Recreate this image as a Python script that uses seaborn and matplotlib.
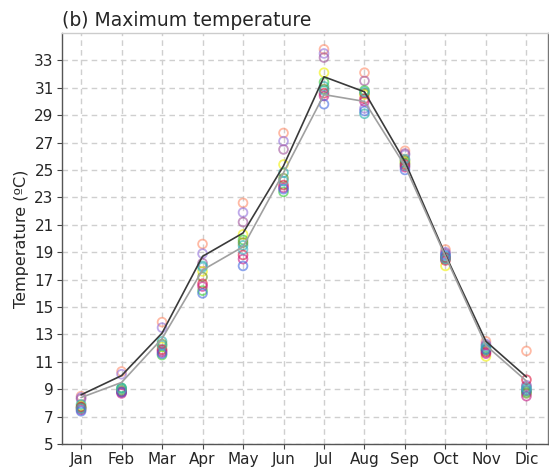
import numpy as np
import pandas as pd
import matplotlib
matplotlib.use("Agg")
import matplotlib.pyplot as plt
import seaborn as sns

months = ["Jan", "Feb", "Mar", "Apr", "May", "Jun", "Jul", "Aug", "Sep", "Oct", "Nov", "Dic"]

# Observed / reference climatologies (two gray lines)
ref_dark = [8.6, 10.0, 13.1, 18.7, 20.4, 25.3, 31.8, 30.7, 25.6, 18.8, 12.5, 9.9]
ref_light = [8.4, 9.5, 12.7, 17.7, 19.4, 24.8, 30.5, 30.0, 25.3, 18.7, 12.2, 9.6]

# Ensemble members (open circles)
members = ["M01", "M02", "M03", "M04", "M05", "M06", "M07", "M08", "M09", "M10", "M11"]
member_colors = ["#ff8c69", "#9370db", "#a0529b", "#f0f000", "#32cd32", "#20b2aa",
                 "#6b8e23", "#dc143c", "#c71585", "#4169e1", "#3cb0c0"]
m01 = [8.5, 10.3, 13.9, 19.6, 22.6, 27.7, 33.8, 32.1, 26.4, 19.2, 12.5, 11.8]
m02 = [8.4, 10.1, 13.5, 18.9, 21.9, 27.1, 33.5, 29.5, 26.1, 19.0, 12.3, 9.3]
m03 = [8.3, 8.8, 11.8, 18.2, 21.2, 26.5, 33.2, 31.5, 26.2, 18.9, 12.2, 9.2]
m04 = [7.8, 9.0, 12.1, 17.6, 20.3, 25.4, 32.1, 30.5, 25.6, 18.0, 11.4, 8.9]
m05 = [7.7, 9.1, 11.5, 16.2, 19.9, 23.4, 31.4, 30.8, 25.5, 18.6, 11.9, 8.8]
m06 = [7.9, 9.1, 12.5, 18.0, 19.5, 24.8, 31.1, 29.1, 25.3, 18.7, 12.0, 9.0]
m07 = [7.6, 8.9, 12.3, 17.2, 19.7, 24.4, 30.9, 30.6, 25.7, 18.5, 11.8, 8.7]
m08 = [7.7, 8.8, 11.9, 16.7, 18.8, 23.9, 30.6, 30.2, 25.4, 18.4, 11.7, 9.7]
m09 = [7.5, 8.7, 11.7, 16.5, 18.5, 23.7, 30.4, 30.0, 25.2, 18.6, 11.6, 8.5]
m10 = [7.4, 8.8, 11.6, 16.0, 18.0, 23.6, 29.8, 29.3, 25.0, 18.8, 11.9, 8.9]
m11 = [7.6, 9.0, 12.2, 17.9, 19.2, 24.2, 30.8, 30.7, 25.8, 18.5, 12.1, 9.1]
member_values = [m01, m02, m03, m04, m05, m06, m07, m08, m09, m10, m11]

yticks = list(range(5, 35, 2))

sns.set_style("white")
plt.rcParams["font.family"] = ["DejaVu Sans"]

fig = plt.figure(figsize=(5.49, 4.70), dpi=100)
ax = fig.add_axes([0.113, 0.055, 0.885, 0.875])

x_idx = np.arange(len(months))

rows = []
for name, vals in zip(members, member_values):
    for i, v in enumerate(vals):
        rows.append({"x": i, "value": v, "member": name})
df_members = pd.DataFrame(rows)

df_lines = pd.DataFrame({
    "x": np.concatenate([x_idx, x_idx]),
    "value": ref_dark + ref_light,
    "series": ["dark"] * len(months) + ["light"] * len(months),
})

sns.lineplot(data=df_lines, x="x", y="value", hue="series",
             palette={"dark": "#3a3a3a", "light": "#a0a0a0"},
             linewidth=1.2, legend=False, ax=ax, zorder=3)

sns.scatterplot(data=df_members, x="x", y="value", hue="member",
                palette=dict(zip(members, member_colors)),
                s=40, legend=False, ax=ax, zorder=2)

# Turn the filled markers into open circles
for coll in ax.collections:
    fc = coll.get_facecolors()
    if len(fc):
        ec = fc.copy()
        ec[:, 3] = 0.6
        coll.set_edgecolors(ec)
        coll.set_facecolors("none")
        coll.set_linewidths(1.3)

ax.set_xlim(-0.47, 11.53)
ax.set_ylim(5, 35)
ax.set_xticks(x_idx)
ax.set_xticklabels(months, fontsize=11)
ax.set_yticks(yticks)
ax.set_yticklabels([str(t) for t in yticks], fontsize=11)
ax.set_xlabel("")
ax.set_ylabel("Temperature (ºC)", fontsize=11.5)

ax.grid(True, linestyle=(0, (4, 3)), color="#cfcfcf", linewidth=1.0)
ax.set_axisbelow(True)
ax.tick_params(axis="both", which="both", length=3.5, width=0.8, color="#444444",
               bottom=True, left=True, pad=2.5)

ax.spines["left"].set_color("#555555")
ax.spines["bottom"].set_color("#555555")
ax.spines["right"].set_color("#777777")
ax.spines["top"].set_color("#cccccc")
for sp in ax.spines.values():
    sp.set_linewidth(1.0)

ax.set_title("(b) Maximum temperature", loc="left", fontsize=13.5, pad=5)

fig.savefig("out.png", dpi=100)
